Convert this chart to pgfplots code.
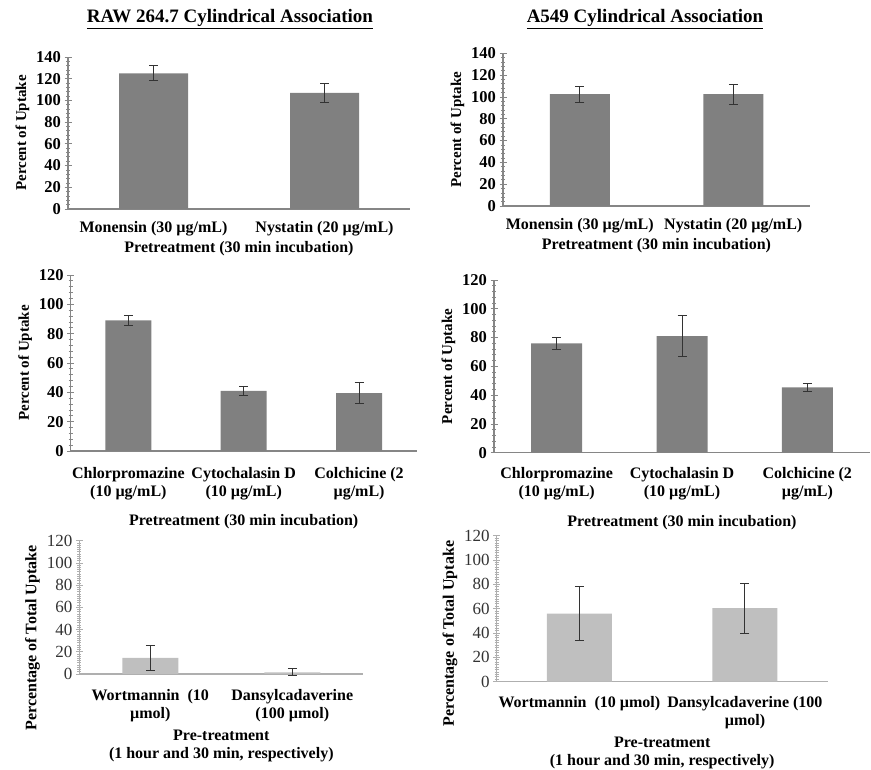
\documentclass[border=0pt]{standalone}
\usepackage{fontspec}
\setmainfont{Liberation Serif}
\usepackage{pgfplots}
\pgfplotsset{compat=1.18}
\definecolor{darkbar}{RGB}{128,128,128}
\definecolor{lightbar}{RGB}{191,191,191}
\definecolor{axgray}{RGB}{134,134,134}
\definecolor{axlight}{RGB}{175,175,175}
\pgfplotsset{
 panel/.style={
  scale only axis, anchor=south west,
  axis x line=bottom, axis y line=left,
  axis line style={-, axgray, line width=1.2pt},
  ymin=0, xtick=data, ybar,
  tick align=center,
  major tick length=7pt, minor tick length=4pt,
  y tick style={axgray, line width=0.8pt},
  x tick style={draw=none},
  /pgf/number format/assume math mode=true,
  yticklabel style={font=\fontsize{16.5}{18}\selectfont\bfseries},
  xticklabel style={font=\fontsize{16}{18}\selectfont\bfseries, align=center, yshift=-5pt},
  ylabel style={font=\fontsize{15}{17}\selectfont\bfseries},
  xlabel style={font=\fontsize{16}{18}\selectfont\bfseries, align=center},
  enlarge x limits=false,
  clip=false,
 },
 eb/.style={error bars/.cd, y dir=both, y explicit,
   error bar style={line width=1pt, black!80},
   error mark options={rotate=90, mark size=4.5pt, line width=1pt, black!80}},
}
\begin{document}
\begin{tikzpicture}
\useasboundingbox (0pt,0pt) rectangle (871pt,770pt);
\node[font=\fontsize{19}{21}\selectfont\bfseries] at (230pt,751pt) {\underline{RAW 264.7 Cylindrical Association}};
\node[font=\fontsize{19}{21}\selectfont\bfseries] at (645pt,751pt) {\underline{A549 Cylindrical Association}};
% Panel 1
\begin{axis}[panel, at={(68pt,561pt)}, width=342pt, height=152pt,
  xmin=-0.5, xmax=1.5, ymax=140, ytick={0,20,...,140}, minor y tick num=4,
  xticklabels={Monensin (30 µg/mL), Nystatin (20 µg/mL)},
  xlabel={Pretreatment (30 min incubation)}, ylabel={Percent of Uptake},
  xlabel style={yshift=1pt}]
\addplot[fill=darkbar, draw=none, bar width=69pt, eb] coordinates {(0,125) +- (0,7) (1,107) +- (0,9)};
\end{axis}
% Panel 2
\begin{axis}[panel, at={(503pt,564pt)}, width=307pt, height=152.7pt,
  xmin=-0.5, xmax=1.5, ymax=140, ytick={0,20,...,140}, minor y tick num=4,
  xticklabels={Monensin (30 µg/mL), Nystatin (20 µg/mL)},
  xlabel={Pretreatment (30 min incubation)}, ylabel={Percent of Uptake},
  xlabel style={yshift=1pt}]
\addplot[fill=darkbar, draw=none, bar width=60pt, eb] coordinates {(0,102.5) +- (0,7.5) (1,102.5) +- (0,9)};
\end{axis}
% Panel 3
\begin{axis}[panel, at={(70.7pt,319pt)}, width=346pt, height=176pt,
  xmin=-0.5, xmax=2.5, ymax=120, ytick={0,20,...,120}, minor y tick num=4,
  xticklabels={{Chlorpromazine\\(10 µg/mL)}, {Cytochalasin D\\(10 µg/mL)}, {Colchicine (2\\µg/mL)}},
  xticklabel style={yshift=-4pt},
  xlabel={Pretreatment (30 min incubation)}, ylabel={Percent of Uptake},
  xlabel style={yshift=-8pt}]
\addplot[fill=darkbar, draw=none, bar width=46pt, eb] coordinates {(0,89) +- (0,3.2) (1,41) +- (0,3.2) (2,39.5) +- (0,7)};
\end{axis}
% Panel 4
\begin{axis}[panel, at={(494pt,317.3pt)}, width=376pt, height=172.7pt,
  xmin=-0.5, xmax=2.5, ymax=120, ytick={0,20,...,120}, minor y tick num=4,
  xticklabels={{Chlorpromazine\\(10 µg/mL)}, {Cytochalasin D\\(10 µg/mL)}, {Colchicine (2\\µg/mL)}},
  xticklabel style={yshift=-3pt},
  xlabel={Pretreatment (30 min incubation)}, ylabel={Percent of Uptake},
  xlabel style={yshift=-8pt}]
\addplot[fill=darkbar, draw=none, bar width=51pt, eb] coordinates {(0,76) +- (0,4) (1,81) +- (0,14.5) (2,45.3) +- (0,3)};
\end{axis}
% Panel 5
\begin{axis}[panel, at={(79.3pt,96pt)}, width=284pt, height=133.3pt,
  axis line style={-, axlight, line width=1.2pt}, y tick style={axlight, line width=0.8pt},
  yticklabel style={font=\fontsize{17}{18}\selectfont\mdseries, black!80},
  ylabel style={font=\fontsize{16}{18}\selectfont\bfseries, at={(ticklabel cs:0.27)}},
  xmin=-0.5, xmax=1.5, ymax=120, ytick={0,20,...,120}, minor y tick num=9,
  xticklabels={{Wortmannin\ \ (10\\µmol)}, {Dansylcadaverine\\(100 µmol)}},
  xticklabel style={yshift=-3pt},
  xlabel={Pre-treatment\\(1 hour and 30 min, respectively)}, ylabel={Percentage of Total Uptake},
  xlabel style={yshift=-2pt}]
\addplot[fill=lightbar, draw=none, bar width=56pt, eb] coordinates {(0,14.5) +- (0,11.5) (1,1.5) +- (0,3)};
\end{axis}
% Panel 6
\begin{axis}[panel, at={(496.7pt,88.3pt)}, width=331pt, height=146pt,
  axis line style={-, axlight, line width=1.2pt}, y tick style={axlight, line width=0.8pt},
  yticklabel style={font=\fontsize{17}{18}\selectfont\mdseries, black!80},
  ylabel style={font=\fontsize{16}{18}\selectfont\bfseries, at={(ticklabel cs:0.33)}},
  xmin=-0.5, xmax=1.5, ymax=120, ytick={0,20,...,120}, minor y tick num=9,
  xticklabels={{Wortmannin\ \ (10 µmol)}, {Dansylcadaverine (100\\µmol)}},
  xticklabel style={yshift=-3pt},
  xlabel={Pre-treatment\\(1 hour and 30 min, respectively)}, ylabel={Percentage of Total Uptake},
  xlabel style={yshift=-1pt}]
\addplot[fill=lightbar, draw=none, bar width=65pt, eb] coordinates {(0,56) +- (0,22) (1,60.5) +- (0,20.5)};
\end{axis}
\end{tikzpicture}
\end{document}
